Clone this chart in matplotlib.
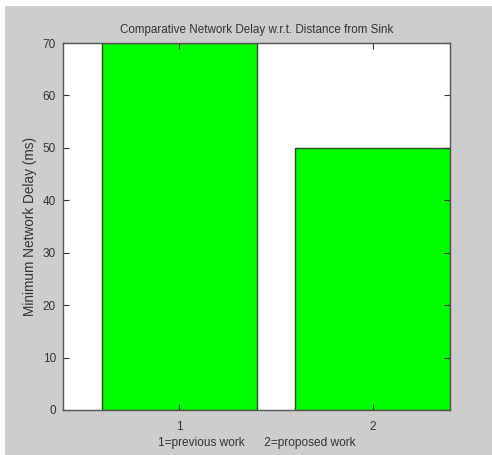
import matplotlib.pyplot as plt
from matplotlib.patches import Rectangle

plt.rcParams['font.family'] = ['Liberation Sans', 'DejaVu Sans']

categories = [1, 2]
delays = [70, 50]
y_ticks = [0, 10, 20, 30, 40, 50, 60, 70]

fig = plt.figure(figsize=(4.92, 4.55), dpi=100, facecolor='white')
# gray matlab-style figure background, leaves a thin white strip at left/top
fig.patches.append(Rectangle((5 / 492, 0), 1, 449 / 455, transform=fig.transFigure,
                             facecolor='#cdcdcd', edgecolor='none', zorder=-1))

ax = fig.add_axes([63 / 492, 45 / 455, 387 / 492, 367 / 455])
ax.bar(categories, delays, width=0.8, color='#00ff00', edgecolor='#2a4a2a', linewidth=1.0)
ax.set_xlim(0.4, 2.4)
ax.set_ylim(0, 70)
ax.set_xticks(categories)
ax.set_yticks(y_ticks)
ax.tick_params(direction='in', length=4, top=True, right=True, labelsize=8.5,
               colors='#333333', labelcolor='#333333', width=0.8, pad=5)
ax.tick_params(axis='x', pad=8)
for s in ax.spines.values():
    s.set_color('#555555')
    s.set_linewidth(1.0)

ax.set_title('Comparative Network Delay w.r.t. Distance from Sink', fontsize=8.4,
             color='#333333', pad=7)
ax.set_ylabel('Minimum Network Delay (ms)', fontsize=9.8, color='#333333', labelpad=4)
ax.set_xlabel('1=previous work      2=proposed work', fontsize=8.6, color='#333333', labelpad=3)

fig.savefig('out.png', dpi=100, facecolor=fig.get_facecolor())
